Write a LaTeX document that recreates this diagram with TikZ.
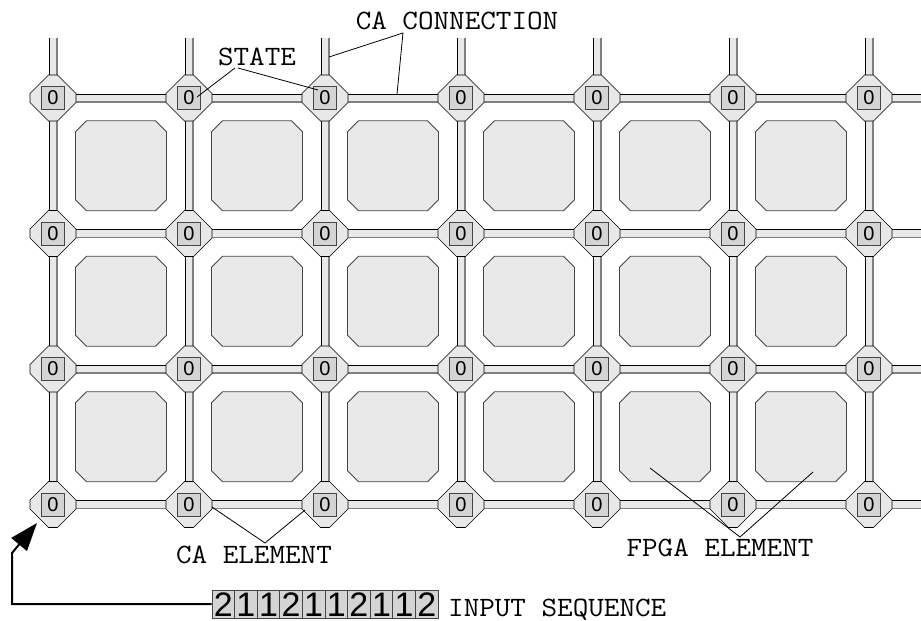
\documentclass[tikz,border=0pt]{standalone}
\usepackage{fontspec}
\newfontfamily\sansf{Liberation Sans}
\usetikzlibrary{arrows.meta}
\definecolor{wirefill}{HTML}{E8E8E8}
\definecolor{statefill}{HTML}{D4D4D4}
\definecolor{blockfill}{HTML}{E9E9E9}
\definecolor{edgegray}{HTML}{808080}
\definecolor{boxedge}{HTML}{454545}
\newcommand\hwire[3]{%
  \fill[wirefill] (#1,#3-4) rectangle (#2,#3+4);
  \draw[line width=0.8pt] (#1,#3-4) -- (#2,#3-4);
  \draw[edgegray,line width=1.3pt] (#1,#3+4) -- (#2,#3+4);}
\newcommand\vwire[3]{%
  \fill[wirefill] (#1-4,#2) rectangle (#1+4,#3);
  \draw[line width=0.8pt] (#1-4,#2) -- (#1-4,#3);
  \draw[edgegray,line width=1.3pt] (#1+4,#2) -- (#1+4,#3);}
\newcommand\octa[2]{%
  \draw[octastyle] (#1-4.5,#2-23) -- (#1+4.5,#2-23) -- (#1+23,#2-4.5) -- (#1+23,#2+4.5)
    -- (#1+4.5,#2+23) -- (#1-4.5,#2+23) -- (#1-23,#2+4.5) -- (#1-23,#2-4.5) -- cycle;}
\newcommand\fblock[2]{%
  \draw[blockstyle] (#1-34.5,#2-45) -- (#1+34.5,#2-45) -- (#1+45.5,#2-34) -- (#1+45.5,#2+34)
    -- (#1+34.5,#2+45) -- (#1-34.5,#2+45) -- (#1-45.5,#2+34) -- (#1-45.5,#2-34) -- cycle;}
\newcommand\lbltext[1]{\scalebox{1.08}[1]{#1}}
\tikzset{
  octastyle/.style={fill=wirefill,draw=black,line width=0.6pt},
  blockstyle/.style={fill=blockfill,draw=boxedge,line width=0.9pt},
  statebox/.style={rectangle,minimum width=22.5pt,minimum height=23pt,inner sep=0pt,
    fill=statefill,draw=boxedge,line width=0.8pt,font=\sansf\fontsize{20}{20}\selectfont},
  seqbox/.style={rectangle,minimum width=22.6pt,minimum height=28pt,inner sep=0pt,
    text height=24pt,text depth=0pt,
    fill=statefill,draw=boxedge,line width=0.8pt,font=\sansf\fontsize{34}{34}\selectfont},
  lbl/.style={font=\ttfamily\fontsize{28}{28}\selectfont,inner sep=0pt},
  pointer/.style={line width=0.8pt}
}
\begin{document}
\begin{tikzpicture}[x=1pt,y=-1pt]
\useasboundingbox (0,0) rectangle (921,621);
% blocks
\foreach \j in {0,...,2}{
  \foreach \i in {0,...,5}{
    \pgfmathsetmacro\cx{121+136*\i}
    \pgfmathsetmacro\cy{165.75+135.5*\j}
    \fblock{\cx}{\cy}
    \coordinate (f-\i-\j) at (\cx,\cy);
  }
}
% horizontal wires
\foreach \j in {0,...,3}{
  \pgfmathsetmacro\yy{98+135.5*\j}
  \foreach \i in {0,...,5}{
    \pgfmathsetmacro\xa{53+136*\i}
    \pgfmathsetmacro\xb{53+136*(\i+1)}
    \hwire{\xa}{\xb}{\yy}
  }
  \hwire{869}{921}{\yy}
}
% vertical wires
\foreach \i in {0,...,6}{
  \pgfmathsetmacro\xx{53+136*\i}
  \vwire{\xx}{38}{98}
  \foreach \j in {0,...,2}{
    \pgfmathsetmacro\ya{98+135.5*\j}
    \pgfmathsetmacro\yb{98+135.5*(\j+1)}
    \vwire{\xx}{\ya}{\yb}
  }
}
% CA elements
\foreach \j in {0,...,3}{
  \foreach \i in {0,...,6}{
    \pgfmathsetmacro\xx{53+136*\i}
    \pgfmathsetmacro\yy{98+135.5*\j}
    \octa{\xx}{\yy}
    \node[statebox] (s-\i-\j) at (\xx,\yy) {0};
  }
}
% labels
\node[lbl] (cacon) at (457,21) {\lbltext{CA CONNECTION}};
\node[lbl] (state) at (257,57) {\lbltext{STATE}};
\node[lbl] (caelem) at (254,555) {\lbltext{CA ELEMENT}};
\node[lbl] (fpga) at (720,548) {\lbltext{FPGA ELEMENT}};
\node[lbl,anchor=base west] (inseq) at (448,616) {\lbltext{INPUT SEQUENCE}};
\coordinate (caconP) at (403,33);
\coordinate (wireA) at (329,57);
\coordinate (wireB) at (397,94);
\draw[pointer] (wireA) -- (caconP) -- (wireB);
\coordinate (stateP1) at (235,68);
\coordinate (stateP2) at (238,68);
\coordinate (stA) at (197,97);
\coordinate (stB) at (318,90);
\draw[pointer] (stateP1) -- (stA);
\draw[pointer] (stateP2) -- (stB);
\coordinate (caelP) at (265,543);
\coordinate (elA) at (212,507);
\coordinate (elB) at (305,510);
\draw[pointer] (elA) -- (caelP) -- (elB);
\coordinate (fpgaP) at (740,537);
\coordinate (fpA) at (650,468);
\coordinate (fpB) at (813,472);
\draw[pointer] (fpA) -- (fpgaP) -- (fpB);
% input sequence
\foreach \d [count=\k from 0] in {2,1,1,2,1,1,2,1,1,2}{
  \pgfmathsetmacro\bx{223.3+22.6*\k}
  \node[seqbox] (in-\k) at (\bx,604) {\d};
}
\coordinate (bendA) at (12,604);
\coordinate (bendB) at (12,553);
\coordinate (arrtip) at (37,523);
\draw[line width=2pt,-{Triangle[length=28pt,width=20pt]}] (in-0.west) -- (bendA) -- (bendB) -- (arrtip);
\end{tikzpicture}
\end{document}
